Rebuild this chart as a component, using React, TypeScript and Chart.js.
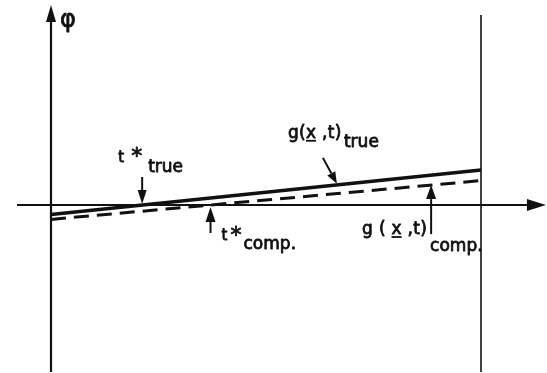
import React, { useEffect, useRef } from "react";
import { Chart, registerables } from "chart.js";

Chart.register(...registerables);

// Time samples at the two ends of the interval and the φ value of each curve.
const times = [0, 10];
const gTrue = [-0.47, 1.75];
const gComp = [-0.72, 1.22];

// Zero crossings of the true and computed curves.
const tStarTrue = 2.12;
const tStarComp = 3.71;

// Times where the curve labels point at their lines.
const tPointTrue = 6.65;
const tPointComp = 8.84;

// Right boundary of the interval.
const tEnd = 10;

const FONT = '"DejaVu Sans", sans-serif';
const INK = "#111";

type Ctx = CanvasRenderingContext2D;

function arrow(ctx: Ctx, x0: number, y0: number, x1: number, y1: number, headLen: number, headHalf: number, width: number) {
  const ang = Math.atan2(y1 - y0, x1 - x0);
  const bx = x1 - headLen * Math.cos(ang);
  const by = y1 - headLen * Math.sin(ang);
  ctx.lineWidth = width;
  ctx.beginPath();
  ctx.moveTo(x0, y0);
  ctx.lineTo(bx, by);
  ctx.stroke();
  ctx.beginPath();
  ctx.moveTo(x1, y1);
  ctx.lineTo(bx + headHalf * Math.sin(ang), by - headHalf * Math.cos(ang));
  ctx.lineTo(bx - headHalf * Math.sin(ang), by + headHalf * Math.cos(ang));
  ctx.closePath();
  ctx.fill();
}

// Lettering: regular face with a thin outline for a pen-drawn weight.
function text(ctx: Ctx, s: string, x: number, y: number, size: number, spacing = 0): number {
  ctx.font = `${size}px ${FONT}`;
  (ctx as any).letterSpacing = `${spacing}px`;
  ctx.lineWidth = 0.8;
  ctx.lineJoin = "round";
  ctx.fillText(s, x, y);
  ctx.strokeText(s, x, y);
  const w = ctx.measureText(s).width;
  (ctx as any).letterSpacing = "0px";
  return w;
}

// Draws "g(x̲ ,t)" style text with the x underlined.
function gLabel(ctx: Ctx, before: string, after: string, x: number, y: number, size: number, spacing: number) {
  let cx = x;
  cx += text(ctx, before, cx, y, size, spacing);
  const wx = text(ctx, "x", cx, y, size, spacing);
  ctx.fillRect(cx, y + 2, wx - spacing, 1.8);
  cx += wx;
  text(ctx, after, cx, y, size, spacing);
}

const sketchPlugin = {
  id: "sketch",
  beforeDatasetsDraw(chart: Chart) {
    const ctx = chart.ctx;
    const xs = chart.scales.x;
    const ys = chart.scales.y;
    const px = (v: number) => xs.getPixelForValue(v);
    const py = (v: number) => ys.getPixelForValue(v);
    ctx.save();
    ctx.strokeStyle = INK;
    ctx.fillStyle = INK;
    ctx.lineCap = "butt";

    // time axis with arrow
    arrow(ctx, px(-0.79), py(0), px(11.51), py(0), 19, 6, 2.2);
    // φ axis with arrow
    arrow(ctx, px(0), py(-8.35), px(0), py(10), 17, 5, 2.2);
    // right boundary
    ctx.lineWidth = 1.6;
    ctx.beginPath();
    ctx.moveTo(px(tEnd), py(9.5));
    ctx.lineTo(px(tEnd), py(-8.35));
    ctx.stroke();

    // φ label
    text(ctx, "φ", px(0) + 9, py(10) + 22, 24);
    ctx.restore();
  },
  afterDatasetsDraw(chart: Chart) {
    const ctx = chart.ctx;
    const xs = chart.scales.x;
    const ys = chart.scales.y;
    const px = (v: number) => xs.getPixelForValue(v);
    const py = (v: number) => ys.getPixelForValue(v);
    const lerp = (arr: number[], t: number) => arr[0] + ((arr[1] - arr[0]) * (t - times[0])) / (times[1] - times[0]);
    ctx.save();
    ctx.strokeStyle = INK;
    ctx.fillStyle = INK;
    ctx.textBaseline = "alphabetic";

    // t*_true
    {
      const x = px(tStarTrue);
      const y = py(0);
      arrow(ctx, x, y - 28, x, y - 1, 14, 4.5, 2);
      text(ctx, "t", x - 24, y - 43, 15);
      text(ctx, "*", x - 11, y - 42, 22);
      text(ctx, "true", x + 6, y - 33, 17);
    }

    // t*_comp.
    {
      const x = px(tStarComp);
      const y = py(0);
      arrow(ctx, x, y + 28, x, y + 2, 15, 5, 2);
      text(ctx, "t", x + 11, y + 35, 15);
      text(ctx, "*", x + 20, y + 37, 22);
      text(ctx, "comp.", x + 33, y + 44, 17);
    }

    // g(x,t)_true
    {
      const x = px(tPointTrue);
      const y = py(lerp(gTrue, tPointTrue));
      arrow(ctx, x - 14, y - 27, x, y - 1, 12, 4.5, 2);
      gLabel(ctx, "g(", " ,t)", x - 49, y - 47, 17, 0.3);
      text(ctx, "true", x + 7, y - 38, 17);
    }

    // g(x,t)_comp
    {
      const x = px(tPointComp);
      const y = py(lerp(gComp, tPointComp));
      arrow(ctx, x, y + 49, x, y, 14, 5, 2);
      gLabel(ctx, "g ( ", " ,t)", x - 69, y + 49, 17, 0.3);
      text(ctx, "comp.", x - 1, y + 66, 17);
    }
    ctx.restore();
  },
};

export default function App() {
  const ref = useRef<HTMLCanvasElement | null>(null);

  useEffect(() => {
    if (!ref.current) return;
    const chart = new Chart(ref.current, {
      type: "line",
      data: {
        datasets: [
          {
            label: "g(x,t) true",
            data: times.map((t, i) => ({ x: t, y: gTrue[i] })),
            borderColor: INK,
            borderWidth: 3.5,
            pointRadius: 0,
            fill: false,
          },
          {
            label: "g(x,t) comp.",
            data: times.map((t, i) => ({ x: t, y: gComp[i] })),
            borderColor: INK,
            borderWidth: 3,
            borderDash: [15, 8],
            pointRadius: 0,
            fill: false,
          },
        ],
      },
      options: {
        responsive: false,
        animation: false,
        devicePixelRatio: 1,
        layout: { padding: 0 },
        plugins: {
          legend: { display: false },
          tooltip: { enabled: false },
        },
        scales: {
          x: { type: "linear", min: -1.186, max: 11.535, display: false },
          y: { type: "linear", min: -8.4, max: 10.25, display: false },
        },
      },
      plugins: [sketchPlugin],
    });
    return () => chart.destroy();
  }, []);

  return (
    <div style={{ position: "fixed", left: 0, top: 0, width: 547, height: 373, background: "#fff" }}>
      <canvas ref={ref} width={547} height={373} />
    </div>
  );
}
